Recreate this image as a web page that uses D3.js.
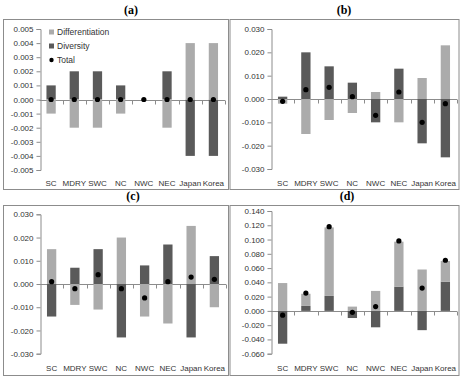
<!DOCTYPE html>
<html><head><meta charset="utf-8">
<script src="https://cdn.jsdelivr.net/npm/d3@7"></script>
<style>
body{margin:0;background:#fff}
svg{display:block}
text{font-family:"Liberation Sans",Arial,sans-serif}
</style>
</head><body>
<svg id="chart" width="465" height="377"></svg>
<script>
const categories = ["SC","MDRY","SWC","NC","NWC","NEC","Japan","Korea"];
const seriesNames = ["Differentiation","Diversity","Total"];

const diversityA = [0.001,0.002,0.002,0.001,0,0.002,-0.004,-0.004];
const differentiationA = [-0.001,-0.002,-0.002,-0.001,0,-0.002,0.004,0.004];
const totalA = [0,0,0,0,0,0,0,0];

const diversityB = [0.001,0.020,0.014,0.007,-0.010,0.013,-0.019,-0.025];
const differentiationB = [-0.002,-0.015,-0.009,-0.006,0.003,-0.010,0.009,0.023];
const totalB = [-0.001,0.004,0.005,0.001,-0.007,0.003,-0.010,-0.002];

const diversityC = [-0.014,0.007,0.015,-0.023,0.008,0.017,-0.023,0.012];
const differentiationC = [0.015,-0.009,-0.011,0.020,-0.014,-0.017,0.025,-0.010];
const totalC = [0.001,-0.002,0.004,-0.002,-0.006,0.001,0.003,0.002];

const diversityD = [-0.046,0.007,0.021,-0.010,-0.023,0.034,-0.027,0.041];
const differentiationD = [0.039,0.017,0.096,0.006,0.028,0.063,0.058,0.029];
const totalD = [-0.006,0.025,0.118,-0.002,0.006,0.098,0.032,0.071];

const ticksA = [0.005,0.004,0.003,0.002,0.001,0,-0.001,-0.002,-0.003,-0.004,-0.005];
const ticksB = [0.030,0.020,0.010,0,-0.010,-0.020,-0.030];
const ticksC = [0.030,0.020,0.010,0,-0.010,-0.020,-0.030];
const ticksD = [0.140,0.120,0.100,0.080,0.060,0.040,0.020,0,-0.020,-0.040,-0.060];

const LIGHT = "#ababab", DARK = "#5a5a5a", AXIS = "#8c8c8c", TXT = "#333";

const svg = d3.select("#chart");

const panels = [
  {title:"(a)", tx:131, ty:14, box:[3,19,225,170], x0:39.5, x1:225, yT:29, yB:170, ticks:ticksA, div:diversityA, dif:differentiationA, tot:totalA, labY:186, legend:true},
  {title:"(b)", tx:344, ty:14, box:[229.5,19,229,170], x0:271, x1:457, yT:29, yB:169, ticks:ticksB, div:diversityB, dif:differentiationB, tot:totalB, labY:186},
  {title:"(c)", tx:133, ty:200, box:[3,205,225,170], x0:40, x1:226, yT:214.3, yB:353.7, ticks:ticksC, div:diversityC, dif:differentiationC, tot:totalC, labY:371},
  {title:"(d)", tx:347, ty:200, box:[229.5,205,229,170], x0:271, x1:457, yT:211, yB:353.7, ticks:ticksD, div:diversityD, dif:differentiationD, tot:totalD, labY:371}
];

panels.forEach(p => {
  const g = svg.append("g");
  g.append("text").attr("x",p.tx).attr("y",p.ty).attr("text-anchor","middle")
    .style("font-family","'Liberation Serif','Times New Roman',serif").style("font-weight","bold")
    .style("font-size","12px").attr("fill","#000").text(p.title);
  g.append("rect").attr("x",p.box[0]+0.5).attr("y",p.box[1]+0.5).attr("width",p.box[2]).attr("height",p.box[3])
    .attr("fill","#fff").attr("stroke",AXIS).attr("stroke-width",1);

  const x = d3.scaleBand().domain(categories).range([p.x0,p.x1]).paddingInner(0.6).paddingOuter(0.3);
  const xs = d3.scaleBand().domain(categories).range([p.x0,p.x1]);
  const y = d3.scaleLinear().domain([d3.min(p.ticks), d3.max(p.ticks)]).range([p.yB,p.yT]);

  // y axis
  const yAxis = d3.axisLeft(y).tickValues(p.ticks).tickSize(4).tickPadding(3)
    .tickFormat(v => v.toFixed(3));
  const ya = g.append("g").attr("transform",`translate(${Math.round(p.x0)+0.5},0)`).call(yAxis);
  ya.select(".domain").attr("stroke",AXIS);
  ya.selectAll(".tick line").attr("stroke",AXIS);
  ya.selectAll(".tick text").attr("fill",TXT).style("font-size","8px").style("font-family","'Liberation Sans',Arial,sans-serif");

  // zero line with category boundary ticks
  const y0 = Math.round(y(0))+0.5;
  g.append("line").attr("x1",p.x0).attr("x2",p.x1).attr("y1",y0).attr("y2",y0).attr("stroke",AXIS);
  g.selectAll(".xt").data(categories).enter().append("line")
    .attr("x1",d=>Math.round(xs(d)+xs.bandwidth())+0.5).attr("x2",d=>Math.round(xs(d)+xs.bandwidth())+0.5)
    .attr("y1",y0).attr("y2",y0+4).attr("stroke",AXIS);

  // stacked bars
  const rows = categories.map((c,i)=>({cat:c, div:p.div[i], dif:p.dif[i]}));
  const stack = d3.stack().keys(["div","dif"]).offset(d3.stackOffsetDiverging)(rows);
  const color = {div:DARK, dif:LIGHT};
  stack.forEach(s => {
    g.selectAll(null).data(s).enter().append("rect")
      .attr("x",d=>x(d.data.cat)).attr("width",x.bandwidth())
      .attr("y",d=>y(Math.max(d[0],d[1]))).attr("height",d=>Math.abs(y(d[0])-y(d[1])))
      .attr("fill",color[s.key]);
  });

  // total dots
  g.selectAll(null).data(categories).enter().append("circle")
    .attr("cx",d=>x(d)+x.bandwidth()/2).attr("cy",(d,i)=>y(p.tot[i])).attr("r",2.6).attr("fill","#000");

  // category labels
  g.selectAll(null).data(categories).enter().append("text")
    .attr("x",d=>xs(d)+xs.bandwidth()/2).attr("y",p.labY).attr("text-anchor","middle")
    .attr("fill",TXT).style("font-size","8px").text(d=>d);

  if (p.legend) {
    const items = [{n:seriesNames[0],c:LIGHT,t:"sq"},{n:seriesNames[1],c:DARK,t:"sq"},{n:seriesNames[2],c:"#000",t:"dot"}];
    items.forEach((it,i)=>{
      const cy = 32 + i*14;
      if (it.t==="sq") g.append("rect").attr("x",49).attr("y",cy-2.5).attr("width",5).attr("height",5).attr("fill",it.c);
      else g.append("circle").attr("cx",51.5).attr("cy",cy).attr("r",2.2).attr("fill",it.c);
      g.append("text").attr("x",57).attr("y",cy+3).attr("fill",TXT).style("font-size","8.5px").text(it.n);
    });
  }
});
</script>
</body></html>
